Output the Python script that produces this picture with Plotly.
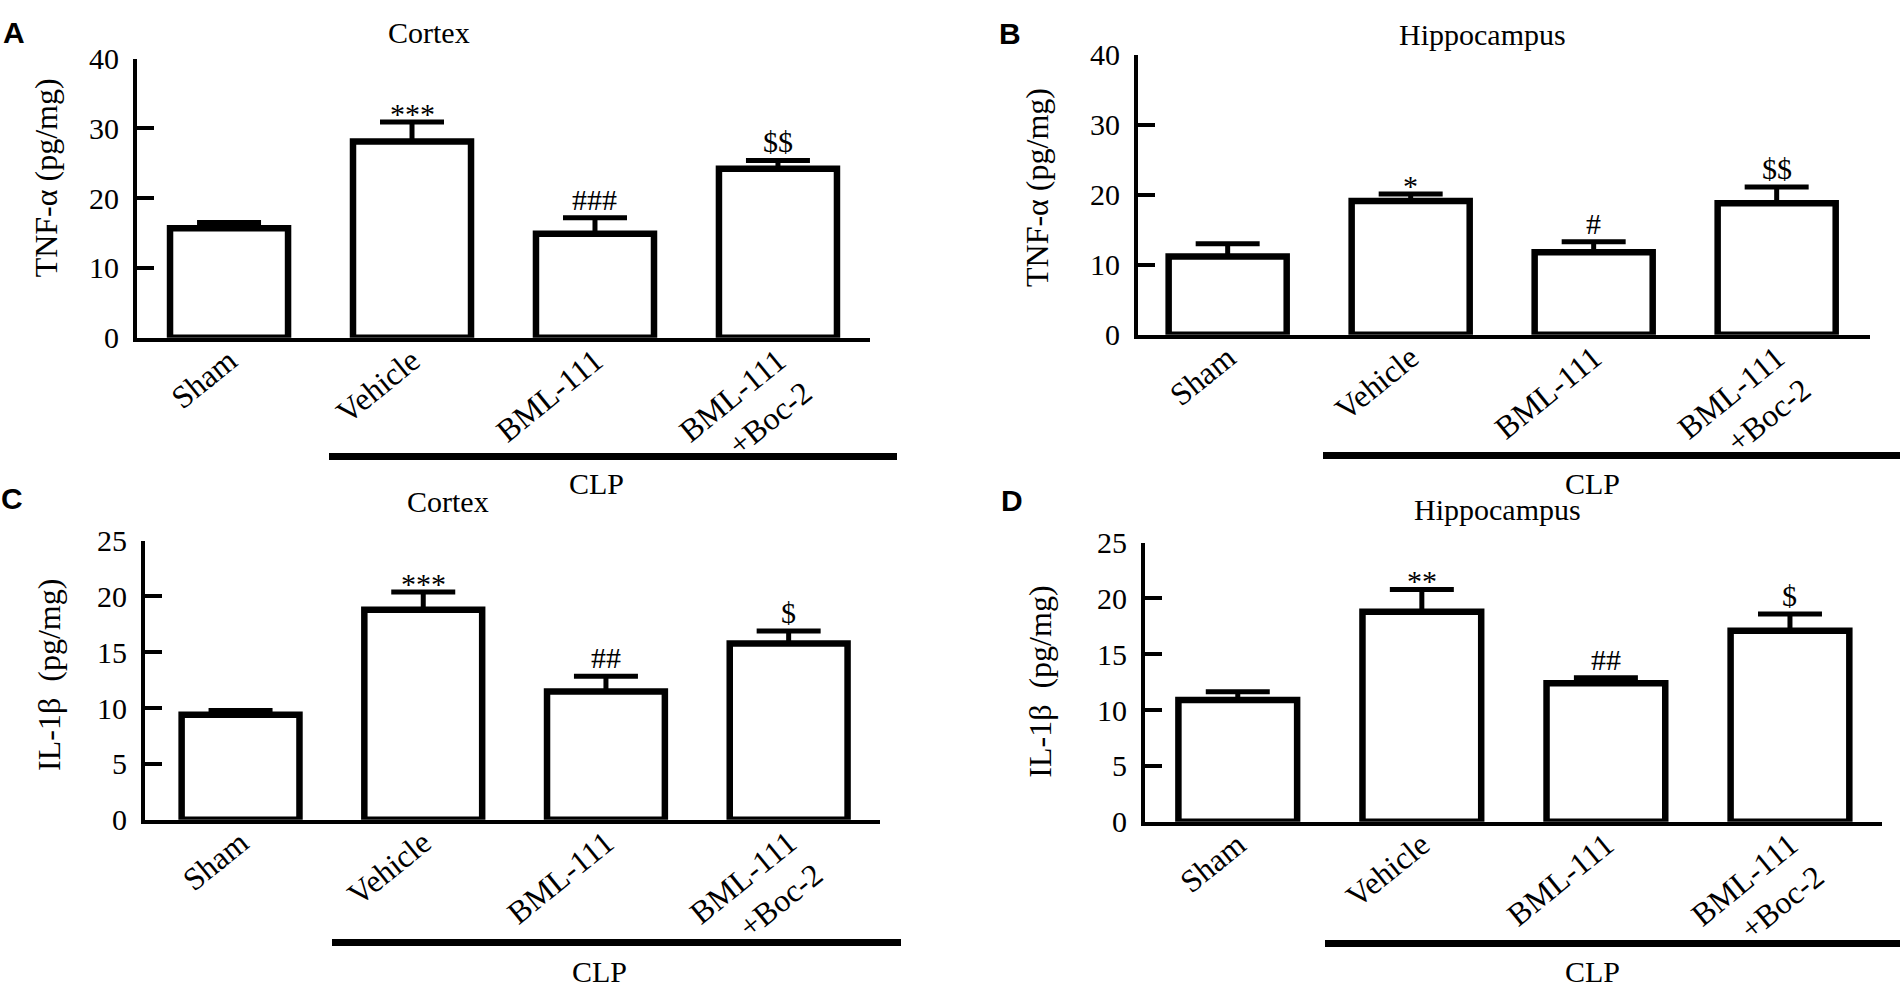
import plotly.graph_objects as go

categories = ["Sham", "Vehicle", "BML-111", "BML-111<br>+Boc-2"]

tnf_cortex = [15.7, 28.1, 14.9, 24.2]
tnf_cortex_err = [0.8, 2.8, 2.3, 1.2]
tnf_hippo = [11.2, 19.1, 11.8, 18.8]
tnf_hippo_err = [1.8, 1.0, 1.5, 2.3]
il_cortex = [9.4, 18.8, 11.5, 15.8]
il_cortex_err = [0.4, 1.6, 1.35, 1.1]
il_hippo = [10.9, 18.8, 12.4, 17.1]
il_hippo_err = [0.75, 2.0, 0.5, 1.5]

sig_a = ["", "***", "###", "$$"]
sig_b = ["", "*", "#", "$$"]
sig_c = ["", "***", "##", "$"]
sig_d = ["", "**", "##", "$"]

tnf_ticks = [0, 10, 20, 30, 40]
il_ticks = [0, 5, 10, 15, 20, 25]

W, H = 1900, 1003
FONT = "Liberation Serif"

panels = [
    dict(letter="A", title="Cortex", ytitle="TNF-α (pg/mg)", vals=tnf_cortex, err=tnf_cortex_err,
         sig=sig_a, ticks=tnf_ticks, xpx=(137, 870), ypx=(332, 43), xr=(-0.503, 3.503),
         letter_pos=(14, 16), title_pos=(429, 16), ytitle_pos=(46, 167),
         clp=(329, 897, 455), clp_text=(596, 483)),
    dict(letter="B", title="Hippocampus", ytitle="TNF-α (pg/mg)", vals=tnf_hippo, err=tnf_hippo_err,
         sig=sig_b, ticks=tnf_ticks, xpx=(1138, 1870), ypx=(329, 39), xr=(-0.49, 3.51),
         letter_pos=(1010, 17), title_pos=(1482, 18), ytitle_pos=(1037, 177),
         clp=(1323, 1900, 454), clp_text=(1592, 483)),
    dict(letter="C", title="Cortex", ytitle="IL-1β  (pg/mg)", vals=il_cortex, err=il_cortex_err,
         sig=sig_c, ticks=il_ticks, xpx=(145, 880), ypx=(831, 542), xr=(-0.523, 3.5),
         letter_pos=(12, 498), title_pos=(448, 502), ytitle_pos=(49, 681),
         clp=(332, 901, 958), clp_text=(599, 988)),
    dict(letter="D", title="Hippocampus", ytitle="IL-1β  (pg/mg)", vals=il_hippo, err=il_hippo_err,
         sig=sig_d, ticks=il_ticks, xpx=(1145, 1882), ypx=(833, 544), xr=(-0.504, 3.5),
         letter_pos=(1012, 500), title_pos=(1497, 510), ytitle_pos=(1040, 688),
         clp=(1325, 1900, 959), clp_text=(1592, 988)),
]


def px(x):
    return x / W


def py(y):
    return 1 - y / H


def label(x, y, text, size=30, family=FONT, angle=0):
    return dict(x=px(x), y=py(y), xref="paper", yref="paper", text=text,
                showarrow=False, xanchor="center", yanchor="middle",
                textangle=angle, font=dict(family=family, size=size, color="black"))


fig = go.Figure()
annotations = []
shapes = []

for i, p in enumerate(panels):
    n = "" if i == 0 else str(i + 1)
    xa, ya = "x" + n, "y" + n
    fig.add_trace(go.Bar(
        x=list(range(len(categories))), y=p["vals"], xaxis=xa, yaxis=ya,
        width=0.645,
        marker=dict(color="white", line=dict(color="black", width=6.5)),
        error_y=dict(type="data", symmetric=False, array=p["err"],
                     arrayminus=[0] * len(p["err"]), color="black",
                     thickness=5, width=32),
        showlegend=False, hoverinfo="skip",
    ))
    top = p["ticks"][-1]
    fig.layout["xaxis" + n] = dict(
        domain=[px(p["xpx"][0]), px(p["xpx"][1])], anchor=ya,
        range=list(p["xr"]), tickmode="array",
        tickvals=list(range(len(categories))), ticktext=categories,
        tickangle=-39, tickfont=dict(family=FONT, size=32, color="black"),
        ticklabelstandoff=-12,
        showline=True, linecolor="black", linewidth=3.5, ticks="",
        showgrid=False, zeroline=False, fixedrange=True,
    )
    fig.layout["yaxis" + n] = dict(
        domain=[py(p["ypx"][0]), py(p["ypx"][1])], anchor=xa,
        range=[0, top], tickmode="array", tickvals=p["ticks"],
        ticks="inside", ticklen=17, tickwidth=3.5, tickcolor="black",
        tickfont=dict(family=FONT, size=30, color="black"),
        ticklabelstandoff=8,
        showline=True, linecolor="black", linewidth=4,
        showgrid=False, zeroline=False, fixedrange=True,
    )
    for j, s in enumerate(p["sig"]):
        if s:
            annotations.append(dict(
                x=j, y=p["vals"][j] + p["err"][j], xref=xa, yref=ya,
                text=s, showarrow=False, xanchor="center", yanchor="bottom",
                yshift=-10 if "*" in s else 0,
                font=dict(family=FONT, size=30, color="black"),
            ))
    annotations.append(label(*p["letter_pos"], "<b>%s</b>" % p["letter"], size=30,
                             family="Liberation Sans"))
    annotations.append(label(*p["title_pos"], p["title"], size=30))
    annotations.append(label(*p["ytitle_pos"], p["ytitle"], size=32, angle=-90))
    annotations.append(label(*p["clp_text"], "CLP", size=30))
    shapes.append(dict(type="line", xref="paper", yref="paper",
                       x0=px(p["clp"][0]), x1=px(p["clp"][1]),
                       y0=py(p["clp"][2]), y1=py(p["clp"][2]),
                       line=dict(color="black", width=7)))

fig.update_layout(
    width=W, height=H, margin=dict(l=0, r=0, t=0, b=0),
    paper_bgcolor="white", plot_bgcolor="white",
    annotations=annotations, shapes=shapes,
    font=dict(family=FONT, color="black"),
)

fig.write_html("out.html", config={"displayModeBar": False},
               post_script="document.body.style.margin='0';document.body.style.overflow='hidden';")
